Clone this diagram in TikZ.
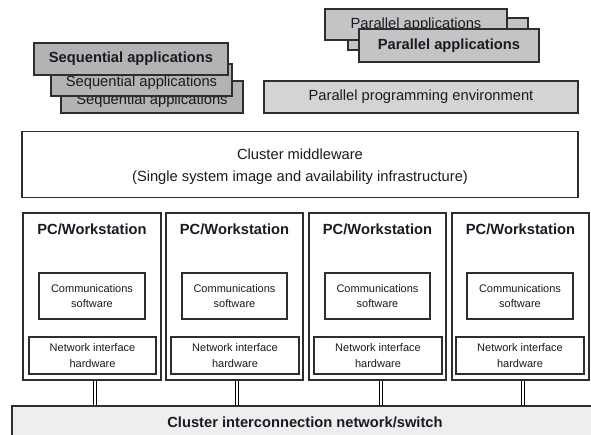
\documentclass[tikz,border=0pt]{standalone}
\usepackage{fontspec}
\setmainfont{Liberation Sans}
\definecolor{edgec}{HTML}{2E2E2E}
\definecolor{seqfill}{HTML}{B3B3B3}
\definecolor{parfill}{HTML}{C4C4C4}
\definecolor{envfill}{HTML}{D4D4D4}
\definecolor{netfill}{HTML}{EEEEEE}
\definecolor{txt}{HTML}{1A1A24}
\newcommand{\lowered}[2]{\raisebox{-#1}[\height][\depth]{#2}}
\begin{document}
\begin{tikzpicture}[x=1pt,y=-1pt,
  box/.style={draw=edgec, line width=1.3pt, inner sep=0pt, text=txt, align=center},
  big/.style={font=\fontsize{14.7}{17.5}\selectfont},
  bigb/.style={font=\fontsize{14.7}{17.5}\selectfont\bfseries},
  small/.style={font=\fontsize{11}{15.5}\selectfont},
  pcbox/.style={box, fill=white, minimum height=167pt},
  combox/.style={box, fill=white, small, minimum height=46pt},
  nihbox/.style={box, fill=white, small, minimum height=37pt},
  link/.style={draw=black, line width=1.2pt, double=white, double distance=1.3pt}
]
\useasboundingbox (0,0) rectangle (591,435);
\fill[white] (0,0) rectangle (591,435);

% Sequential applications stack
\node[box, fill=seqfill, big, minimum width=182pt, minimum height=32pt] (seq3) at (152,97) {\lowered{3.5pt}{Sequential applications}};
\node[box, fill=seqfill, big, minimum width=181pt, minimum height=32pt] (seq2) at (141.5,80) {\lowered{2.5pt}{Sequential applications}};
\node[box, fill=seqfill, bigb, minimum width=194pt, minimum height=32pt] (seq1) at (131,59) {Sequential applications};

% Parallel applications stack
\node[box, fill=parfill, minimum width=180pt, minimum height=32pt] (par2) at (438,34) {};
\node[box, fill=parfill, big, minimum width=182pt, minimum height=31pt] (par3) at (416,24.5) {Parallel applications};
\node[box, fill=parfill, bigb, minimum width=180pt, minimum height=33pt] (par1) at (449,45.5) {Parallel applications};

% Parallel programming environment
\node[box, fill=envfill, big, minimum width=314pt, minimum height=32pt] (ppe) at (421,97) {Parallel programming environment};

% Middleware
\node[box, fill=white, minimum width=556pt, minimum height=66pt, font=\fontsize{14.7}{21.5}\selectfont] (mw) at (300,164.5) {\lowered{2pt}{\parbox{500pt}{\centering Cluster middleware\\(Single system image and availability infrastructure)}}};

% Network
\node[box, fill=netfill, bigb, minimum width=586pt, minimum height=34pt] (net) at (305,423) {\raisebox{2pt}{Cluster interconnection network/switch}};

% PCs
\foreach \i/\x/\w/\cx/\cw/\nx/\nw in {1/92/138/92/106/92.5/127, 2/234.5/137/234.5/105/235/128, 3/377.5/137/377.5/105/378/128, 4/520.5/137/520/106/520/128} {
  \node[pcbox, minimum width=\w pt] (pc\i) at (\x,296.5) {};
  \node[bigb, text=txt] (pct\i) at (\x,229) {PC/Workstation};
  \node[combox, minimum width=\cw pt] (com\i) at (\cx,296) {Communications\\software};
  \node[nihbox, minimum width=\nw pt] (nih\i) at (\nx,355.5) {Network interface\\hardware};
}

% Links
\draw[link] ([xshift=3pt]pc1.south) -- ([xshift=3pt]pc1.south |- net.north);
\draw[link] ([xshift=2.5pt]pc2.south) -- ([xshift=2.5pt]pc2.south |- net.north);
\draw[link] ([xshift=3.5pt]pc3.south) -- ([xshift=3.5pt]pc3.south |- net.north);
\draw[link] ([xshift=2.5pt]pc4.south) -- ([xshift=2.5pt]pc4.south |- net.north);
\end{tikzpicture}
\end{document}
